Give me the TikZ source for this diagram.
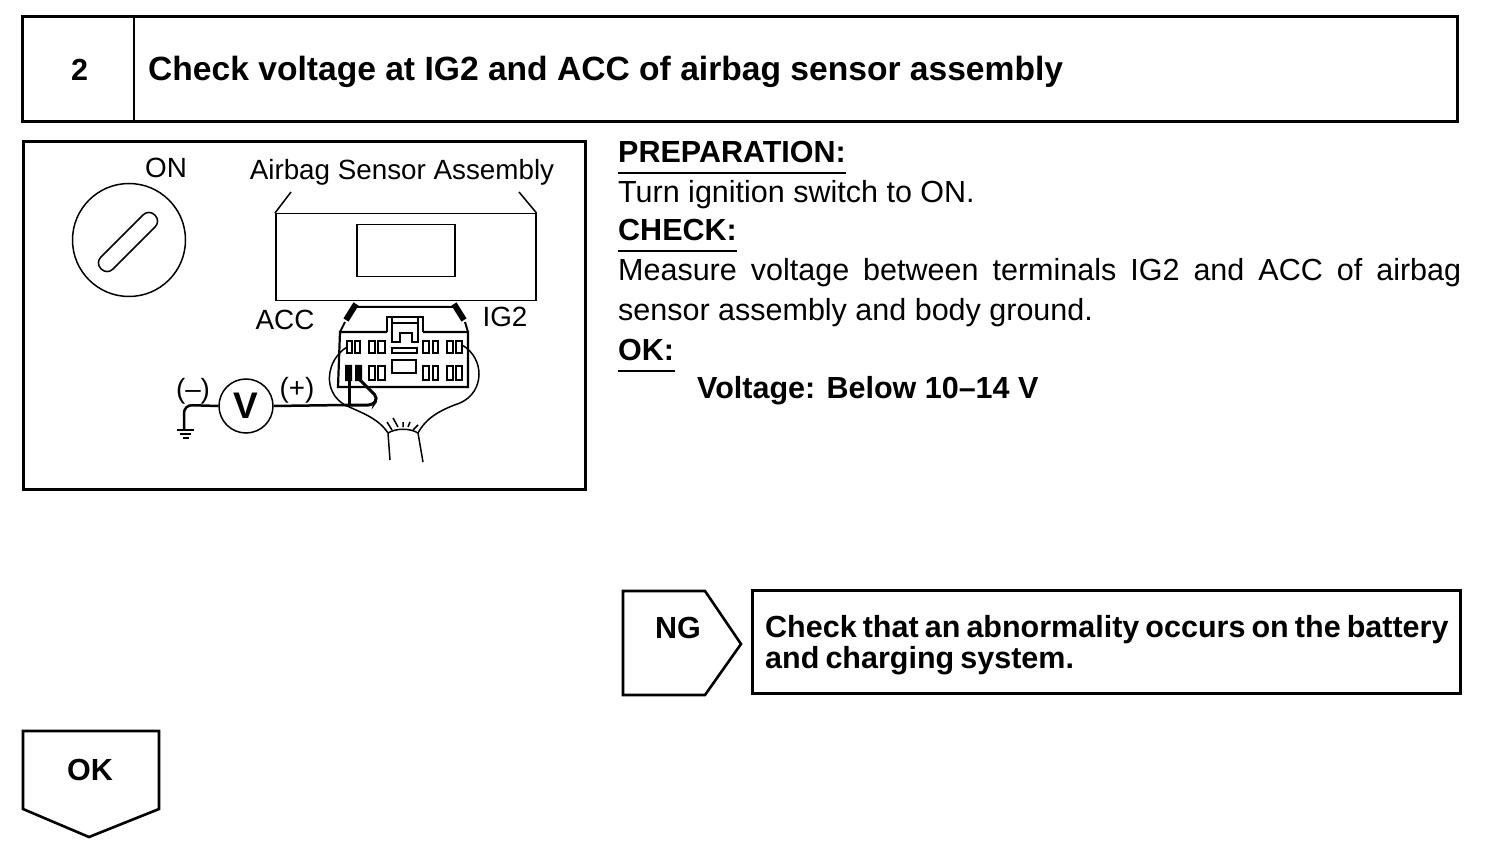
\documentclass[tikz,border=0pt]{standalone}
\usepackage{fontspec}
\setmainfont{Liberation Sans}
\tikzset{
  x=1pt,y=-1pt,
  box/.style={draw,line width=2.6pt,line join=miter},
  thin line/.style={draw,line width=1.5pt},
  body/.style={inner sep=0pt,anchor=base west,font=\fontsize{30.5}{40}\selectfont},
  head/.style={inner sep=0pt,anchor=base west,font=\fontsize{30.5}{40}\selectfont\bfseries},
  label/.style={inner sep=0pt,font=\fontsize{27.8}{32}\selectfont},
}
\begin{document}
\begin{tikzpicture}
\useasboundingbox (0,0) rectangle (1504,858);
\node (titlebox) [box,minimum width=1435pt,minimum height=105pt,anchor=north west,inner sep=0pt] at (21,15) {};
\draw [box] (134,15) -- (134,122);
\node (number) [head] at (71,81) {2};
\node (title) [head,font=\fontsize{33.6}{36}\selectfont\bfseries] at (148,81) {Check voltage at IG2 and ACC of airbag sensor assembly};
\node (figure) [box,minimum width=562pt,minimum height=348pt,anchor=north west,inner sep=0pt] at (22,140) {};
% text on the right
\node (prep) [head] at (618,163) {PREPARATION:};
\draw [thin line] (prep.base west)+(0,10) -- +(228,10);
\node (turn) [body] at (618,203) {Turn ignition switch to ON.};
\node (check) [head] at (618,241) {CHECK:};
\draw [thin line] (check.base west)+(0,10) -- +(119,10);
\node (measure) [body,anchor=north west,text width=843pt,align=justify] at (618,258) {Measure voltage between terminals IG2 and ACC of airbag\linebreak sensor assembly and body ground.};
\node (ok) [head] at (618,361) {OK:};
\draw [thin line] (ok.base west)+(0,10) -- +(57,10);
\node (volt) [head] at (697,398) {Voltage: Below 10--14 V};
% NG branch
\draw [box] (623,591) -- (705,591) -- (741,644) -- (705,695) -- (623,695) -- cycle;
\node (ng) [head] at (678,628) [anchor=center] {NG};
\node (ngbox) [box,minimum width=708pt,minimum height=103pt,anchor=north west,inner sep=0pt] at (751,589) {};
\node (ngtext) [head,anchor=north west,align=left,font=\fontsize{30.5}{31}\selectfont\bfseries,text width=690pt] at (765,615) {\spaceskip=.2em\relax Check that an abnormality occurs on the battery\\and charging system.};
% OK branch
\draw [box] (23,731) -- (159,731) -- (159,809) -- (89,837) -- (23,809) -- cycle;
\node (okbottom) [head,anchor=center] at (90,770) {OK};
% key
\node (on) [label] at (166,168) {ON};
\node (key) [circle,thin line,minimum size=113pt,inner sep=0pt] at (129,240) {};
\node (slot) [thin line,rounded corners=8pt,minimum width=76pt,minimum height=17pt,inner sep=0pt,rotate=45] at (128,242) {};
% sensor
\node (sensorname) [label] at (402,172) {Airbag Sensor Assembly};
\node (sensor) [thin line,minimum width=260pt,minimum height=87pt,inner sep=0pt,anchor=north west] at (275,213) {};
\node (window) [thin line,minimum width=98pt,minimum height=52pt,inner sep=0pt,anchor=north west] at (356,224) {};
\coordinate (lefttick) at (291,192);
\coordinate (righttick) at (519,192);
\draw [thin line] (sensor.north west) -- (lefttick);
\draw [thin line] (sensor.north east) -- (righttick);
\node (acc) [label] at (285,320) {ACC};
\node (igtwo) [label] at (505,317) {IG2};
% connector
\draw [line width=2.2pt] (387,332) -- (345,332) -- (340,332) -- (338,387) -- (468,387) -- (468,332) -- (423,332);
\draw [line width=2pt] (340,332) -- (345,322) (468,332) -- (465,322) (357,307) -- (453,307);
\draw [line width=6pt] (346,320) -- (356,304);
\draw [line width=6pt] (454,304) -- (464,320);
\draw [thin line] (387,332) -- (387,317) -- (423,317) -- (423,332);
\draw [thin line] (392,317) -- (392,342) -- (400,342) -- (400,333) -- (412,333) -- (412,342) -- (418,342) -- (418,317);
\draw [thin line] (392,323) -- (418,323);
\foreach \x/\w in {347/5,355/5,369/6,378/7,423/6,433/5,447/6,456/6} {
  \draw [thin line,line width=1.2pt] (\x,341) rectangle +(\w,12);
}
\foreach \x/\w in {369/6,378/7,423/6,433/5,447/6,456/6} {
  \draw [thin line,line width=1.2pt] (\x,366) rectangle +(\w,14);
}
\fill (345,365) rectangle (352,381) (355,365) rectangle (362,381);
\draw [line width=2pt] (392,348) rectangle (417,353);
\draw [line width=2pt] (392,360) rectangle (416,373);
% meter
\node (meter) [circle,thin line,minimum size=54pt,inner sep=0pt,font=\fontsize{37}{38}\selectfont\bfseries] at (246,406) {V};
\node (minus) [label] at (193,391) {(--)};
\node (plus) [label] at (297,390) {(+)};
\coordinate (ground) at (184,429);
\coordinate (junction) at (345,405);
\draw [line width=2.5pt,rounded corners=8pt] (meter.west) -- (184,405) -- (ground);
\draw [line width=2.5pt] (meter.east) -- (junction);
\draw [thin line] (177,430) -- (194,430) (180,434) -- (191,434) (183,438) -- (189,438);
\draw [line width=3pt] (349,378) -- (349,404);
\draw [line width=3pt,rounded corners=5pt] (358,378) -- (378,398) -- (373,405) -- (junction);
% harness
\draw [thin line] (347,347) .. controls (326,360) and (322,392) .. (345,405) .. controls (362,413) and (378,418) .. (388,433);
\draw [thin line] (462,345) .. controls (485,358) and (485,392) .. (460,403) .. controls (440,410) and (426,418) .. (418,433);
\draw [thin line] (388,433) .. controls (396,428) and (410,428) .. (418,433);
\draw [thin line] (388,433) -- (390,460);
\draw [thin line] (418,433) -- (423,462);
\draw [thin line] (387,422) -- (392,430) (393,418) -- (398,427) (403,422) -- (403,427) (410,422) -- (408,427) (418,425) -- (413,430);
\end{tikzpicture}
\end{document}
